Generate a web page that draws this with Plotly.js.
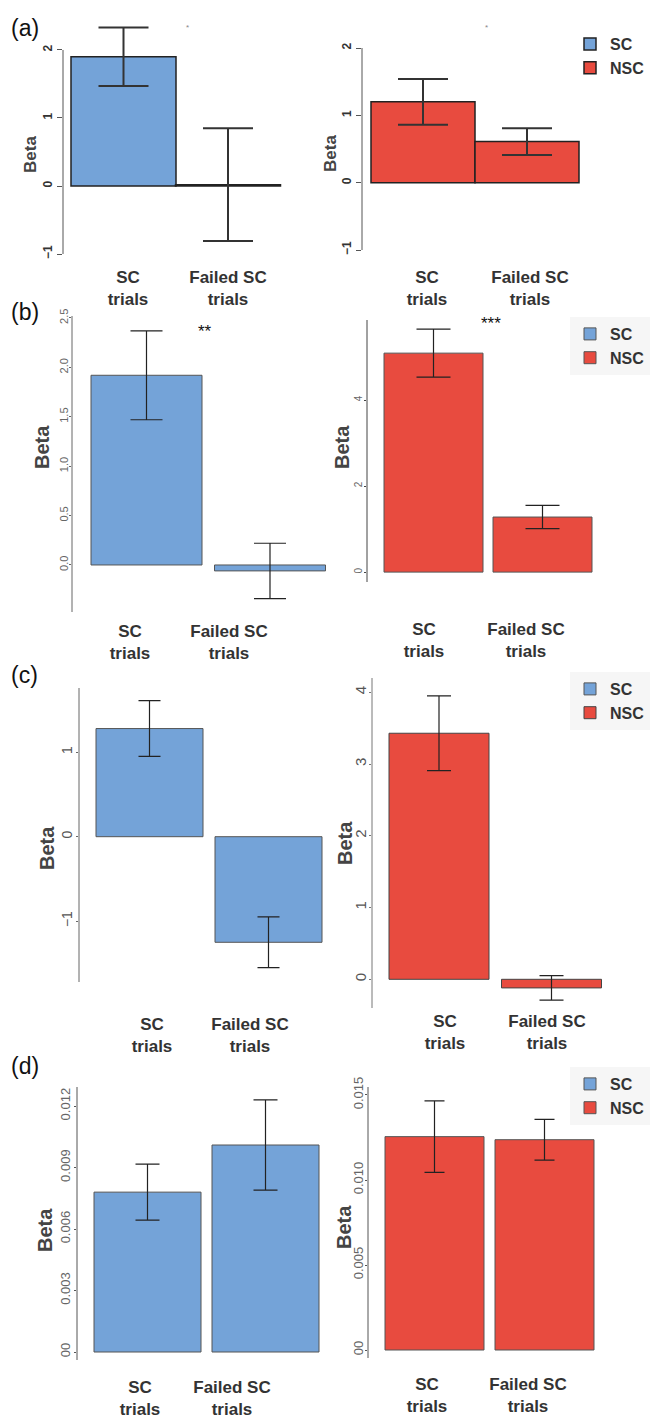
<!DOCTYPE html>
<html>
<head>
<meta charset="utf-8">
<script src="https://cdn.plot.ly/plotly-3.0.1.min.js"></script>
<style>html,body{margin:0;padding:0;background:#fff;}#chart{width:656px;height:1418px;}</style>
</head>
<body>
<div id="chart"></div>
<script>
// ---------------- data ----------------
const categories = ["SC<br>trials", "Failed SC<br>trials"];
const seriesNames = ["SC", "NSC"];
const panelLabels = ["(a)", "(b)", "(c)", "(d)"];
const yTitle = "Beta";

const aSC = [1.90, 0.02];      const aSCerr = [0.43, 0.83];
const aNSC = [1.20, 0.61];     const aNSCerr = [0.34, 0.20];
const bSC = [1.92, -0.06];     const bSCerr = [0.45, 0.28];
const bNSC = [5.09, 1.28];     const bNSCerr = [0.56, 0.27];
const cSC = [1.28, -1.25];     const cSCerr = [0.33, 0.30];
const cNSC = [3.43, -0.12];    const cNSCerr = [0.52, 0.17];
const dSC = [0.0078, 0.0101];  const dSCerr = [0.00137, 0.0022];
const dNSC = [0.01255, 0.01237]; const dNSCerr = [0.0021, 0.0012];

const aTicks = [-1, 0, 1, 2];
const bSCTicks = [0, 0.5, 1, 1.5, 2, 2.5];
const bSCTickText = ["0.0", "0.5", "1.0", "1.5", "2.0", "2.5"];
const bNSCTicks = [0, 2, 4];
const cSCTicks = [-1, 0, 1];
const cNSCTicks = [0, 1, 2, 3, 4];
const dSCTicks = [0, 0.003, 0.006, 0.009, 0.012];
const dSCTickText = ["00", "0.003", "0.006", "0.009", "0.012"];
const dNSCTicks = [0, 0.005, 0.010, 0.015];
const dNSCTickText = ["00", "0.005", "0.010", "0.015"];

const sigMarks = ["*", "*", "**", "***"];

// ---------------- layout constants ----------------
const W = 656, H = 1418;
const BLUE = "#74A3D8", RED = "#E84B3F";
const FONT = "Liberation Sans, Arial, sans-serif";

// lineTo: value at which the drawn y-axis line stops (axis domain extends higher so error caps are visible)
const panels = [
  {y:aSC, e:aSCerr, s:0, leg:"legend",  left:63,  right:300, c0:123.5, c1:228,   w:105, top:20,   bot:254,  yr:[-1,2.441], lineTo:2,
   tv:aTicks, tt:null, lab:[128,228], sto:11, cap:25, th:2, ec:"#333", lc:"#222", lw:1.5, tf:{size:12,color:"#333",weight:"bold"}, tl:5, tls:0, axc:"#555",
   beta:{x:31, y:155, size:17}},
  {y:aNSC, e:aNSCerr, s:1, leg:"legend", left:362, right:600, c0:423,   c1:527,   w:104, top:48,   bot:250,  yr:[-1,2], lineTo:2,
   tv:aTicks, tt:null, lab:[427,530], sto:15, cap:25, th:2, ec:"#333", lc:"#222", lw:1.5, tf:{size:12,color:"#333",weight:"bold"}, tl:5, tls:0, axc:"#555",
   beta:{x:331, y:153, size:17}},
  {y:bSC, e:bSCerr, s:0, leg:"legend2", left:72,  right:335, c0:146.5, c1:270,   w:111, top:316,  bot:612,  yr:[-0.476,2.52], lineTo:2.52,
   tv:bSCTicks, tt:bSCTickText, lab:[130,229], sto:7, cap:16, th:1.2, ec:"#222", lc:"#555", lw:1, tf:{size:11,color:"#666"}, tl:2, tls:-3, axc:"#666",
   beta:{x:42, y:447, size:20}},
  {y:bNSC, e:bNSCerr, s:1, leg:"legend2", left:367, right:600, c0:433.5, c1:542.5, w:99, top:320,  bot:582,  yr:[-0.23,5.86], lineTo:5.86,
   tv:bNSCTicks, tt:null, lab:[424,526], sto:35, cap:17, th:1.2, ec:"#222", lc:"#555", lw:1, tf:{size:10,color:"#666"}, tl:2, tls:-2, axc:"#444",
   beta:{x:342, y:447, size:20}},
  {y:cSC, e:cSCerr, s:0, leg:"legend3", left:79,  right:335, c0:149.5, c1:268.5, w:107, top:688,  bot:982,  yr:[-1.72,1.76], lineTo:1.76,
   tv:cSCTicks, tt:null, lab:[152,250], sto:30, cap:11, th:1.2, ec:"#222", lc:"#555", lw:1, tf:{size:14,color:"#555"}, tl:2, tls:-2, axc:"#666",
   beta:{x:47, y:848, size:20}},
  {y:cNSC, e:cNSCerr, s:1, leg:"legend3", left:372, right:610, c0:439,   c1:551.5, w:100, top:678,  bot:1008, yr:[-0.40,4.2], lineTo:4.2,
   tv:cNSCTicks, tt:null, lab:[445,547], sto:1, cap:12, th:1.2, ec:"#222", lc:"#444", lw:1, tf:{size:15,color:"#555"}, tl:2, tls:-3, axc:"#777",
   beta:{x:345, y:843, size:20}},
  {y:dSC, e:dSCerr, s:0, leg:"legend4", left:77,  right:335, c0:147.5, c1:265.5, w:107, top:1087, bot:1360, yr:[-0.00039,0.01293], lineTo:0.01293,
   tv:dSCTicks, tt:dSCTickText, lab:[140,232], sto:15, cap:12, th:1.2, ec:"#222", lc:"#555", lw:1, tf:{size:13,color:"#666"}, tl:2, tls:-1, axc:"#555",
   beta:{x:45, y:1230, size:20}},
  {y:dNSC, e:dNSCerr, s:1, leg:"legend4", left:368, right:600, c0:434.5, c1:544.5, w:99, top:1087, bot:1358, yr:[-0.00047,0.01547], lineTo:0.01547,
   tv:dNSCTicks, tt:dNSCTickText, lab:[427,528], sto:14, cap:10, th:1.2, ec:"#222", lc:"#555", lw:1, tf:{size:13,color:"#666"}, tl:2, tls:-3, axc:"#555",
   beta:{x:344, y:1227, size:20}}
];

const traces = [];
const layout = {
  width: W, height: H,
  margin: {l:0, r:0, t:0, b:0},
  paper_bgcolor: "#fff", plot_bgcolor: "rgba(0,0,0,0)",
  showlegend: true,
  font: {family: FONT},
  annotations: [], shapes: []
};

panels.forEach((p, i) => {
  const k = i + 1;
  const unit = p.c1 - p.c0;
  const xs = categories.map((_, j) => j);
  traces.push({
    type: "bar",
    x: xs, y: p.y,
    name: seriesNames[p.s],
    legend: p.leg,
    width: p.w / unit,
    cliponaxis: false,
    marker: {color: p.s === 0 ? BLUE : RED, line: {color: p.lc, width: p.lw}},
    error_y: {type: "data", array: p.e, visible: true, color: p.ec, thickness: p.th, width: p.cap},
    xaxis: "x" + k, yaxis: "y" + k,
    hoverinfo: "y"
  });
  layout["xaxis" + k] = {
    domain: [p.left / W, p.right / W],
    range: [(p.left - p.c0) / unit, (p.right - p.c0) / unit],
    tickmode: "array",
    tickvals: p.lab.map(v => (v - p.c0) / unit),
    ticktext: categories,
    showline: false, ticks: "", showgrid: false, zeroline: false,
    ticklabelstandoff: p.sto,
    tickfont: {family: FONT, size: 17, color: "#333", weight: "bold"},
    anchor: "y" + k, fixedrange: true
  };
  const ya = {
    domain: [1 - p.bot / H, 1 - p.top / H],
    range: p.yr,
    tickmode: "array",
    tickvals: p.tv,
    tickangle: -90,
    showline: false,
    ticks: "outside", ticklen: p.tl, tickcolor: p.axc, tickwidth: 1,
    ticklabelstandoff: p.tls,
    showgrid: false, zeroline: false,
    tickfont: Object.assign({family: FONT}, p.tf),
    anchor: "x" + k, fixedrange: true
  };
  if (p.tt) ya.ticktext = p.tt;
  layout["yaxis" + k] = ya;
  // y-axis line
  layout.shapes.push({
    type: "line", xref: "x" + k + " domain", yref: "y" + k,
    x0: 0, x1: 0, y0: p.yr[0], y1: p.lineTo,
    line: {color: p.axc, width: 1}
  });
  // y-axis title "Beta"
  layout.annotations.push({
    text: yTitle, textangle: -90, xref: "paper", yref: "paper",
    x: p.beta.x / W, y: 1 - p.beta.y / H, xanchor: "center", yanchor: "middle",
    showarrow: false, font: {family: FONT, size: p.beta.size, color: "#444", weight: "bold"}
  });
});

// legends (one per row, right column)
const legendRows = [
  {key: "legend",  top: 27,   bg: "rgba(255,255,255,0)"},
  {key: "legend2", top: 317,  bg: "rgba(238,238,238,0.55)"},
  {key: "legend3", top: 672,  bg: "rgba(238,238,238,0.55)"},
  {key: "legend4", top: 1067, bg: "rgba(238,238,238,0.55)"}
];
legendRows.forEach(l => {
  layout[l.key] = {
    x: 570 / W, xanchor: "left",
    y: 1 - l.top / H, yanchor: "top",
    bgcolor: l.bg, borderwidth: 0,
    font: {family: FONT, size: 16, color: "#333", weight: "bold"},
    itemwidth: 30, tracegroupgap: 0, traceorder: "normal"
  };
});

// panel letters
const letterY = [28, 312, 675, 1066];
panelLabels.forEach((t, i) => {
  layout.annotations.push({
    text: t, xref: "paper", yref: "paper",
    x: 9 / W, y: 1 - letterY[i] / H, xanchor: "left", yanchor: "middle",
    showarrow: false, font: {family: FONT, size: 23, color: "#111"}
  });
});

// significance marks
const sigPos = [
  {x:188, y:28, size:8, color:"#888"},
  {x:486, y:28, size:8, color:"#888"},
  {x:205, y:332, size:17, color:"#111"},
  {x:491, y:324, size:17, color:"#111"}
];
sigMarks.forEach((t, i) => {
  const s = sigPos[i];
  layout.annotations.push({
    text: t, xref: "paper", yref: "paper",
    x: s.x / W, y: 1 - s.y / H, xanchor: "center", yanchor: "middle",
    showarrow: false, font: {family: FONT, size: s.size, color: s.color}
  });
});

Plotly.newPlot("chart", traces, layout, {displayModeBar: false, staticPlot: true});
</script>
</body>
</html>
